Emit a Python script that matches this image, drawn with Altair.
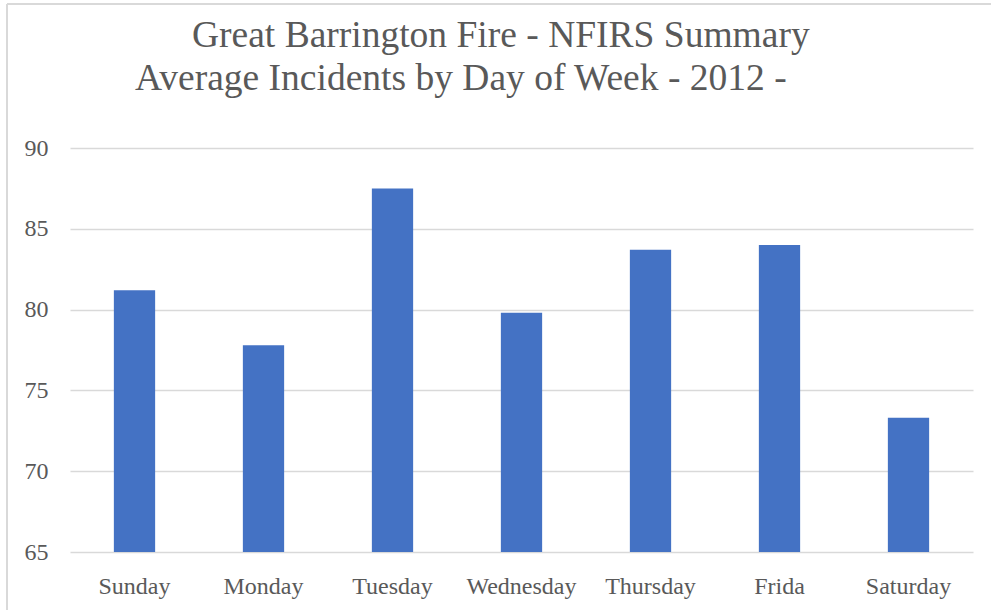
import altair as alt
import pandas as pd

# Average number of incidents per weekday, 2012
days = ["Sunday", "Monday", "Tuesday", "Wednesday", "Thursday", "Frida", "Saturday"]
avg_incidents = [81.2, 77.8, 87.5, 79.8, 83.7, 84.0, 73.3]

title_lines = [
    "Great Barrington Fire - NFIRS Summary",
    "Average Incidents by Day of Week - 2012 -",
]

df = pd.DataFrame({"day": days, "incidents": avg_incidents})

FONT = "Liberation Serif"
TEXT_GRAY = "#595959"
GRID_GRAY = "#d9d9d9"

bars = alt.Chart(df).mark_bar(color="#4472C4").encode(
    x=alt.X(
        "day:N",
        sort=days,
        title=None,
        scale=alt.Scale(paddingInner=0.68, paddingOuter=0.34),
        axis=alt.Axis(
            labelAngle=0,
            labelFont=FONT,
            labelFontSize=24,
            labelColor=TEXT_GRAY,
            labelPadding=22,
            ticks=False,
            tickSize=0,
            domain=False,
            grid=False,
        ),
    ),
    y=alt.Y(
        "incidents:Q",
        title=None,
        scale=alt.Scale(domain=[65, 90], zero=False, nice=False),
        axis=alt.Axis(
            values=[65, 70, 75, 80, 85, 90],
            labelFont=FONT,
            labelFontSize=24,
            labelColor=TEXT_GRAY,
            labelPadding=22,
            ticks=False,
            tickSize=0,
            domain=False,
            grid=True,
            gridColor=GRID_GRAY,
            gridWidth=1.5,
        ),
    ),
    y2=alt.datum(65),
)


def title_line(text, x, y):
    """One line of the two-line heading, left-aligned at its start."""
    return alt.Chart(pd.DataFrame({"t": [text]})).mark_text(
        font=FONT,
        fontSize=37.5,
        color=TEXT_GRAY,
        align="left",
        baseline="alphabetic",
        clip=False,
    ).encode(text="t:N", x=alt.value(x), y=alt.value(y))


heading = alt.layer(
    title_line(title_lines[0], 122, -101),
    title_line(title_lines[1], 65, -58),
)

# thin frame along the top and left edges of the chart
frame_left = alt.Chart(df).mark_rule(color=GRID_GRAY, strokeWidth=2, clip=False).encode(
    x=alt.value(-63), y=alt.value(-144), y2=alt.value(470)
)
frame_top = alt.Chart(df).mark_rule(color=GRID_GRAY, strokeWidth=2, clip=False).encode(
    x=alt.value(-63), x2=alt.value(930), y=alt.value(-144)
)

chart = (
    alt.layer(bars, heading, frame_left, frame_top)
    .properties(
        width=903,
        height=404,
        autosize=alt.AutoSizeParams(type="none"),
        padding={"left": 70, "top": 148, "right": 18, "bottom": 58},
        view=alt.ViewBackground(stroke="transparent", strokeWidth=0),
    )
    .configure_view(stroke="transparent", strokeWidth=0)
    .configure(
        background="white",
        style={"cell": {"stroke": "transparent", "strokeWidth": 0}},
    )
)

chart.save("out.html", embed_options={"renderer": "svg", "actions": False})
